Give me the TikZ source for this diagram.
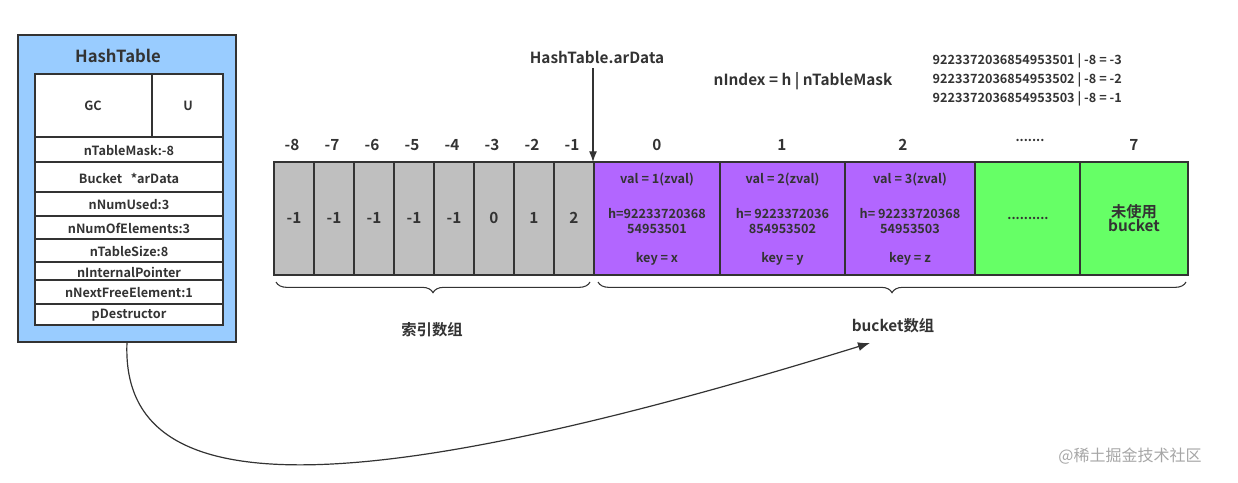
\documentclass[tikz,border=0pt]{standalone}
\usepackage{fontspec}
\setmainfont{Noto Sans CJK SC}[BoldFont={* Bold}]
\usetikzlibrary{decorations.pathreplacing,arrows.meta}
\definecolor{hblue}{HTML}{99CCFF}
\definecolor{gcell}{HTML}{BFBFBF}
\definecolor{pcell}{HTML}{B266FF}
\definecolor{gr}{HTML}{66FF66}
\definecolor{tx}{HTML}{333333}
\begin{document}
\begin{tikzpicture}[x=0.75pt,y=-0.75pt,
  every node/.style={font=\bfseries\fontsize{9.5}{11}\selectfont,text=tx},
  row/.style={draw=tx,fill=white,line width=0.9pt},
  cell/.style={draw=tx,line width=0.9pt},
  br/.style={decorate,decoration={brace,amplitude=8pt,mirror},draw=tx,line width=0.8pt}]
\useasboundingbox (0,0) rectangle (1238,482);
% HashTable panel
\draw[fill=hblue,draw=tx,line width=1pt] (18,35) rectangle (236,342);
\node[font=\bfseries\fontsize{12.5}{14}\selectfont] (ht) at (118,56) {HashTable};
\draw[row] (35,74) rectangle (152,137); \node (gc) at (93,106) {GC};
\draw[row] (152,74) rectangle (223,137); \node (u) at (188,106) {U};
\foreach \a/\b/\t [count=\i] in {137/162/nTableMask:-8,162/192/{Bucket\ \ \ *arData},192/216/nNumUsed:3,216/239/nNumOfElements:3,239/262/nTableSize:8,262/280/nInternalPointer,280/304/nNextFreeElement:1,304/325/pDestructor}{
  \draw[row] (35,\a) rectangle (223,\b);
  \node (r\i) at (129,{(\a+\b)/2+1}) {\t};
}
% gray index cells
\foreach \v [count=\i from 0] in {-1,-1,-1,-1,-1,0,1,2}{
  \draw[cell,fill=gcell] ({274+40*\i},162) rectangle ({314+40*\i},275);
  \node[font=\bfseries\fontsize{11.5}{13}\selectfont] (g\i) at ({294+40*\i},218) {\v};
}
\foreach \l [count=\i from 0] in {-8,-7,-6,-5,-4,-3,-2,-1}
  \node[font=\bfseries\fontsize{11.5}{13}\selectfont] (gl\i) at ({292+40*\i},145) {\l};
% purple buckets
\foreach \a/\b/\n/\h/\hh/\k [count=\i from 0] in {594/720/1/{h=92233720368}/54953501/x,720/845/2/{h= 9223372036}/854953502/y,845/975/3/{h= 92233720368}/54953503/z}{
  \draw[cell,fill=pcell] (\a,162) rectangle (\b,275);
  \node (pv\i) at ({(\a+\b)/2},180) {val = \n(zval)};
  \node[align=center,font=\bfseries\fontsize{9.5}{11}\selectfont] (ph\i) at ({(\a+\b)/2},221) {\h\\\hh};
  \node (pk\i) at ({(\a+\b)/2},259) {key = \k};
}
\draw[cell,fill=gr] (975,162) rectangle (1080,275);
\node (dots) at (1028,218) {..........};
\draw[cell,fill=gr] (1080,162) rectangle (1188,275);
\node[align=center,font=\bfseries\fontsize{11.5}{13}\selectfont] (unused) at (1134,218) {未使用\\[-2pt]bucket};
\foreach \x/\l [count=\i] in {657/0,782/1,903/2,1134/7}
  \node[font=\bfseries\fontsize{11.5}{13}\selectfont] (bl\i) at (\x,145) {\l};
\node (bldots) at (1030,140) {.......};
% arData pointer
\node[font=\bfseries\fontsize{11.5}{13}\selectfont] (ard) at (597,57) {HashTable.arData};
\coordinate (ardt) at (593,162);
\draw[-{Latex[length=8pt]},line width=0.9pt,tx] (593,68) -- (ardt);
\node[font=\bfseries\fontsize{11.5}{13}\selectfont] (nidx) at (803,81) {nIndex = h | nTableMask};
\node[anchor=west,align=left,font=\bfseries\fontsize{9.5}{14}\selectfont] (calc) at (928,80) {9223372036854953501 | -8 = -3\\9223372036854953502 | -8 = -2\\9223372036854953503 | -8 = -1};
% braces
\draw[br] (276,282) -- (590,282);
\node[font=\bfseries\fontsize{11.5}{13}\selectfont] (idxl) at (432,330) {索引数组};
\draw[br] (598,282) -- (1186,282);
\node[font=\bfseries\fontsize{11.5}{13}\selectfont] (bkl) at (893,326) {bucket数组};
% curve
\coordinate (ce) at (870,343);
\draw[-{Latex[length=9pt]},line width=0.9pt,tx] (127,342) .. controls (120,500) and (330,510) .. (ce);
\node[text=gray!70,font=\fontsize{12}{14}\selectfont] (wm) at (1130,456) {@稀土掘金技术社区};
\end{tikzpicture}
\end{document}
